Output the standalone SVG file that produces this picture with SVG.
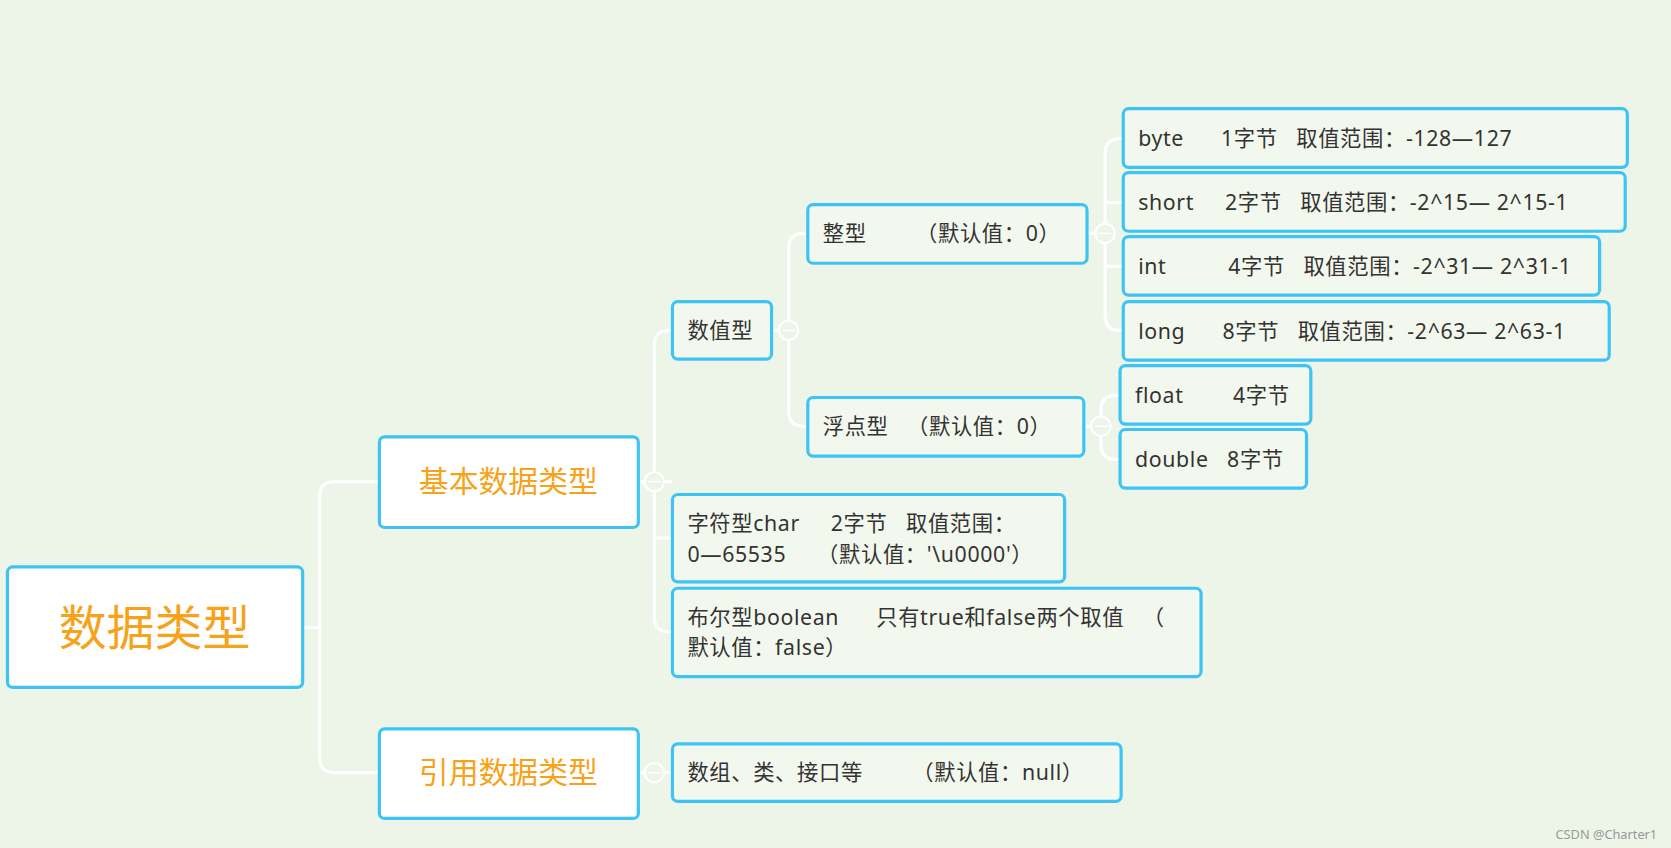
<svg xmlns="http://www.w3.org/2000/svg" width="1671" height="848" viewBox="0 0 1671 848">
<style>
.n{fill:#f3f8ee;stroke:#3ec3f5;stroke-width:3}
.w{fill:#ffffff;stroke:#3ec3f5;stroke-width:3}
.t{font-family:"Noto Sans","Noto Sans CJK SC",sans-serif;font-size:20px;fill:#333;letter-spacing:0.6px}
.o{font-family:"Noto Sans CJK SC",sans-serif;fill:#f7a21b;text-anchor:middle}
.c{fill:none;stroke:#ffffff;stroke-width:3}
.k{fill:#edf4e8;stroke:#ffffff;stroke-width:2}
</style>
<rect width="1671" height="848" fill="#edf4e8"/>
<g transform="scale(1.0657)">
<g id="connectors">
<path class="c" d="M284 589H300M300 466V711Q300 725 314 725H356M300 466Q300 452 314 452H356"/>
<path class="c" d="M599 452H631M614 324Q614 310 628 310H631M614 324V579Q614 593 628 593H631M614 505H631"/>
<path class="c" d="M599 725H631"/>
<path class="c" d="M724 310H740M740 233Q740 219 754 219H758M740 233V386Q740 400 754 400H758"/>
<path class="c" d="M1020 219H1037M1037 144Q1037 130 1051 130H1054M1037 144V296Q1037 310 1051 310H1054M1037 190H1054M1037 250H1054"/>
<path class="c" d="M1017 400H1033M1033 385Q1033 371 1047 371H1051M1033 385V417Q1033 431 1047 431H1051"/>
<circle class="k" cx="614" cy="452" r="9"/><path class="c" d="M608 452H620" style="stroke-width:1.5"/>
<circle class="k" cx="614" cy="725" r="9"/><path class="c" d="M608 725H620" style="stroke-width:1.5"/>
<circle class="k" cx="740" cy="310" r="9"/><path class="c" d="M734 310H746" style="stroke-width:1.5"/>
<circle class="k" cx="1037" cy="219" r="9"/><path class="c" d="M1031 219H1043" style="stroke-width:1.5"/>
<circle class="k" cx="1033" cy="400" r="9"/><path class="c" d="M1027 400H1039" style="stroke-width:1.5"/>
</g>
<g id="root"><rect class="w" x="7" y="532" width="277" height="113" rx="5"/><text class="o" x="145" y="605" font-size="45">数据类型</text></g>
<g id="basic"><rect class="w" x="356" y="410" width="243" height="85" rx="5"/><text class="o" x="477" y="462" font-size="28">基本数据类型</text></g>
<g id="ref"><rect class="w" x="356" y="684" width="243" height="84" rx="5"/><text class="o" x="477" y="735" font-size="28">引用数据类型</text></g>
<g id="num"><rect class="n" x="631" y="283" width="93" height="54" rx="5"/><text class="t" x="645" y="317">数值型</text></g>
<g id="int-type"><rect class="n" x="758" y="192" width="262" height="55" rx="5"/><text class="t" x="772" y="226" xml:space="preserve">整型        （默认值：0）</text></g>
<g id="float-type"><rect class="n" x="758" y="373" width="259" height="55" rx="5"/><text class="t" x="772" y="407" xml:space="preserve">浮点型   （默认值：0）</text></g>
<g id="byte"><rect class="n" x="1054" y="102" width="473" height="55" rx="5"/><text class="t" x="1068" y="137" xml:space="preserve">byte      1字节   取值范围：-128—127</text></g>
<g id="short"><rect class="n" x="1054" y="162" width="471" height="55" rx="5"/><text class="t" x="1068" y="197" xml:space="preserve">short     2字节   取值范围：-2^15— 2^15-1</text></g>
<g id="int"><rect class="n" x="1054" y="222" width="447" height="55" rx="5"/><text class="t" x="1068" y="257" xml:space="preserve">int          4字节   取值范围：-2^31— 2^31-1</text></g>
<g id="long"><rect class="n" x="1054" y="283" width="456" height="55" rx="5"/><text class="t" x="1068" y="318" xml:space="preserve">long      8字节   取值范围：-2^63— 2^63-1</text></g>
<g id="float"><rect class="n" x="1051" y="343" width="179" height="55" rx="5"/><text class="t" x="1065" y="378" xml:space="preserve">float        4字节</text></g>
<g id="double"><rect class="n" x="1051" y="403" width="175" height="55" rx="5"/><text class="t" x="1065" y="438" xml:space="preserve">double   8字节</text></g>
<g id="char"><rect class="n" x="631" y="464" width="368" height="82" rx="5"/><text class="t" x="645" y="498" xml:space="preserve">字符型char     2字节   取值范围：</text><text class="t" x="645" y="527" xml:space="preserve">0—65535     （默认值：'\u0000'）</text></g>
<g id="boolean"><rect class="n" x="631" y="552" width="496" height="83" rx="5"/><text class="t" x="645" y="586" xml:space="preserve">布尔型boolean      只有true和false两个取值   （</text><text class="t" x="645" y="615" xml:space="preserve">默认值：false）</text></g>
<g id="array"><rect class="n" x="631" y="698" width="421" height="54" rx="5"/><text class="t" x="645" y="732" xml:space="preserve">数组、类、接口等        （默认值：null）</text></g>
<text x="1555" y="787" font-family="Noto Sans,sans-serif" font-size="12" fill="#999" text-anchor="end">CSDN @Charter1</text>
</g>
</svg>
